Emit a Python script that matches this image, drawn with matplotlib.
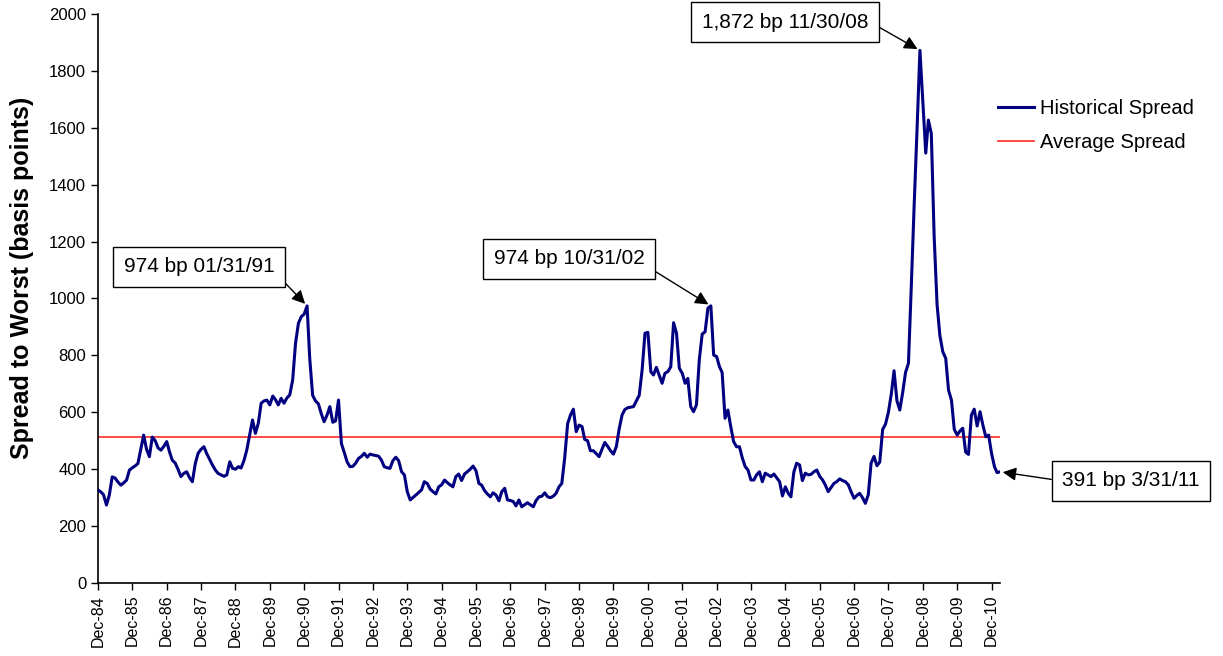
# 高收益债利差历史走势图
import matplotlib.pyplot as plt
import numpy as np
import pandas as pd

plt.rcParams['font.family'] = ['Liberation Sans', 'DejaVu Sans']

# 月度数据: 1984年12月 - 2011年3月
dates = pd.date_range('1984-12-31', periods=316, freq='ME')
spread = [
    327, 320, 310, 274, 309, 373, 369, 355, 344, 352, 362, 397,
    405, 412, 420, 470, 520, 470, 444, 513, 500, 475, 467, 480,
    497, 460, 432, 422, 400, 374, 385, 391, 370, 356, 420, 456,
    470, 479, 455, 435, 415, 397, 385, 380, 375, 380, 426, 403,
    400, 409, 404, 430, 467, 520, 573, 526, 562, 632, 640, 643,
    626, 657, 645, 626, 649, 632, 650, 661, 714, 842, 913, 936,
    945, 974, 790, 660, 640, 630, 596, 567, 590, 620, 565, 570,
    643, 490, 460, 426, 409, 410, 421, 438, 445, 456, 442, 453,
    450, 448, 446, 432, 409, 405, 403, 430, 442, 430, 391, 380,
    321, 292, 300, 309, 318, 327, 356, 350, 330, 321, 313, 338,
    345, 362, 353, 345, 338, 374, 383, 360, 383, 391, 400, 411,
    395, 350, 344, 325, 313, 303, 317, 309, 289, 321, 333, 292,
    290, 286, 271, 292, 268, 275, 282, 275, 268, 290, 303, 305,
    317, 303, 300, 305, 315, 338, 350, 440, 560, 590, 611, 532,
    555, 550, 505, 500, 465, 465, 455, 444, 470, 494, 480, 465,
    453, 480, 540, 590, 610, 616, 618, 620, 640, 660, 750, 878,
    881, 743, 731, 758, 730, 702, 737, 743, 760, 915, 878, 755,
    737, 702, 719, 620, 602, 626, 784, 875, 883, 966, 974, 801,
    796, 760, 740, 579, 608, 549, 497, 479, 479, 440, 409, 397,
    362, 362, 380, 391, 356, 386, 380, 374, 383, 370, 356, 306,
    338, 315, 303, 390, 421, 415, 360, 386, 380, 382, 391, 397,
    375, 362, 345, 321, 335, 350, 356, 366, 360, 356, 345, 320,
    298, 308, 315, 300, 280, 310, 421, 445, 412, 425, 540, 558,
    600, 665, 746, 640, 608, 670, 740, 772, 1050, 1330, 1600, 1872,
    1690, 1511, 1627, 1580, 1220, 980, 870, 813, 790, 678, 643, 540,
    520, 535, 544, 460, 452, 590, 611, 552, 602, 555, 514, 520,
    456, 409, 388, 391,
]
avg_spread = 514

tick_labels = ['Dec-84', 'Dec-85', 'Dec-86', 'Dec-87', 'Dec-88', 'Dec-89', 'Dec-90',
               'Dec-91', 'Dec-92', 'Dec-93', 'Dec-94', 'Dec-95', 'Dec-96', 'Dec-97',
               'Dec-98', 'Dec-99', 'Dec-00', 'Dec-01', 'Dec-02', 'Dec-03', 'Dec-04',
               'Dec-05', 'Dec-06', 'Dec-07', 'Dec-08', 'Dec-09', 'Dec-10']

# 标注: (数据下标, 文本, 文本框中心位置(像素), 箭头起点)
notes_idx = [73, 214, 287, 315]
notes_text = ['974 bp 01/31/91', '974 bp 10/31/02', '1,872 bp 11/30/08', '391 bp 3/31/11']
notes_pos = [(199, 389), (569, 397), (785, 634), (1131, 175)]
notes_rel = [(1, 0.25), (1, 0.2), (1, 0.55), (0, 0.5)]

fig = plt.figure(figsize=(12.23, 6.56), dpi=100)
ax = fig.add_axes([98 / 1223, 1 - 583 / 656, 902 / 1223, 569 / 656])

ax.plot(dates, spread, color='#000080', lw=2.2, label='Historical Spread', zorder=3)
ax.plot(dates, [avg_spread] * len(dates), color='#FF3B3B', lw=1.3, label='Average Spread', zorder=2)

ax.set_xlim(dates[0], dates[-1])
ax.set_ylim(0, 2000)
ax.set_yticks(np.arange(0, 2001, 200))
ax.tick_params(axis='y', labelsize=12, length=5, width=1, direction='out')
ax.set_xticks(dates[::12])
ax.set_xticklabels(tick_labels, rotation=90, fontsize=11.5)
ax.tick_params(axis='x', length=5, width=1, direction='out')
ax.set_ylabel('Spread to Worst (basis points)', fontsize=18, fontweight='bold')
ax.yaxis.set_label_coords(-64 / 902, 0.536)

for side in ['top', 'right']:
    ax.spines[side].set_visible(False)
for side in ['left', 'bottom']:
    ax.spines[side].set_color('black')
    ax.spines[side].set_linewidth(1.2)

for idx, txt, pos, rel in zip(notes_idx, notes_text, notes_pos, notes_rel):
    ax.annotate(txt, xy=(dates[idx], spread[idx]), xytext=pos, textcoords='figure pixels',
                ha='center', va='center', fontsize=15, annotation_clip=False,
                bbox=dict(boxstyle='square,pad=0.5', fc='white', ec='black', lw=1),
                arrowprops=dict(arrowstyle='-|>', color='black', lw=1, mutation_scale=20,
                                shrinkA=0, shrinkB=2, relpos=rel))

ax.legend(loc='upper left', bbox_to_anchor=(998 / 1223, 1 - 99 / 656), bbox_transform=fig.transFigure,
          frameon=False, fontsize=14.5, handlelength=1.8, handletextpad=0.3, labelspacing=0.75,
          borderpad=0, borderaxespad=0)

plt.savefig('out.png', dpi=100)
